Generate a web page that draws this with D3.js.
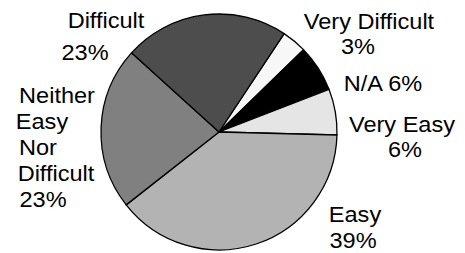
<!DOCTYPE html>
<html>
<head>
<meta charset="utf-8">
<script src="https://cdn.jsdelivr.net/npm/d3@7"></script>
<style>
  html, body { margin: 0; padding: 0; background: #fff; }
  svg { display: block; }
  text { font-family: "Liberation Sans", Arial, sans-serif; fill: #000; }
</style>
</head>
<body>
<svg id="chart" width="465" height="253"></svg>
<script>
// slices in clockwise order, starting at the top-right
const categories = ['Very Difficult', 'N/A', 'Very Easy', 'Easy', 'Neither Easy Nor Difficult', 'Difficult'];
const shares = [3.4, 6.4, 6.3, 39.0, 22.3, 22.6];
const pctLabels = ['3%', '6%', '6%', '39%', '23%', '23%'];
const fills = ['#f7f7f7', '#000000', '#e5e5e5', '#b3b3b3', '#808080', '#4d4d4d'];

// label lines: [text, centre x, baseline y]
const labelLines = {
  'Very Difficult': [['Very Difficult', 369, 29], ['3%', 358, 54]],
  'N/A': [['N/A 6%', 383, 91]],
  'Very Easy': [['Very Easy', 402, 132], ['6%', 405, 157]],
  'Easy': [['Easy', 355, 222], ['39%', 353, 248]],
  'Neither Easy Nor Difficult': [['Neither', 57, 103], ['Easy', 42, 129], ['Nor', 38, 155], ['Difficult', 56, 181], ['23%', 43, 207]],
  'Difficult': [['Difficult', 106, 28], ['23%', 85, 60]]
};

(function() {
  const svg = d3.select('#chart');
  const cx = 219, cy = 132, r = 118;

  const data = categories.map((c, i) => ({ name: c, value: shares[i], pct: pctLabels[i], fill: fills[i] }));

  const pie = d3.pie()
    .value(d => d.value)
    .sort(null)
    .startAngle(33.5 * Math.PI / 180)
    .endAngle(33.5 * Math.PI / 180 + 2 * Math.PI);

  const arc = d3.arc().innerRadius(0).outerRadius(r);

  const g = svg.append('g').attr('transform', `translate(${cx},${cy})`);

  g.selectAll('path')
    .data(pie(data))
    .join('path')
    .attr('d', arc)
    .attr('fill', d => d.data.fill)
    .attr('stroke', '#000')
    .attr('stroke-width', 1.3)
    .attr('stroke-linejoin', 'round');

  // labels
  const fontSize = 22, stretch = 1.07;
  categories.forEach(c => {
    labelLines[c].forEach(([t, x, y]) => {
      svg.append('text')
        .attr('transform', `translate(${x},${y}) scale(${stretch},1)`)
        .attr('text-anchor', 'middle')
        .style('font-size', fontSize + 'px')
        .text(t);
    });
  });
})();
</script>
</body>
</html>
